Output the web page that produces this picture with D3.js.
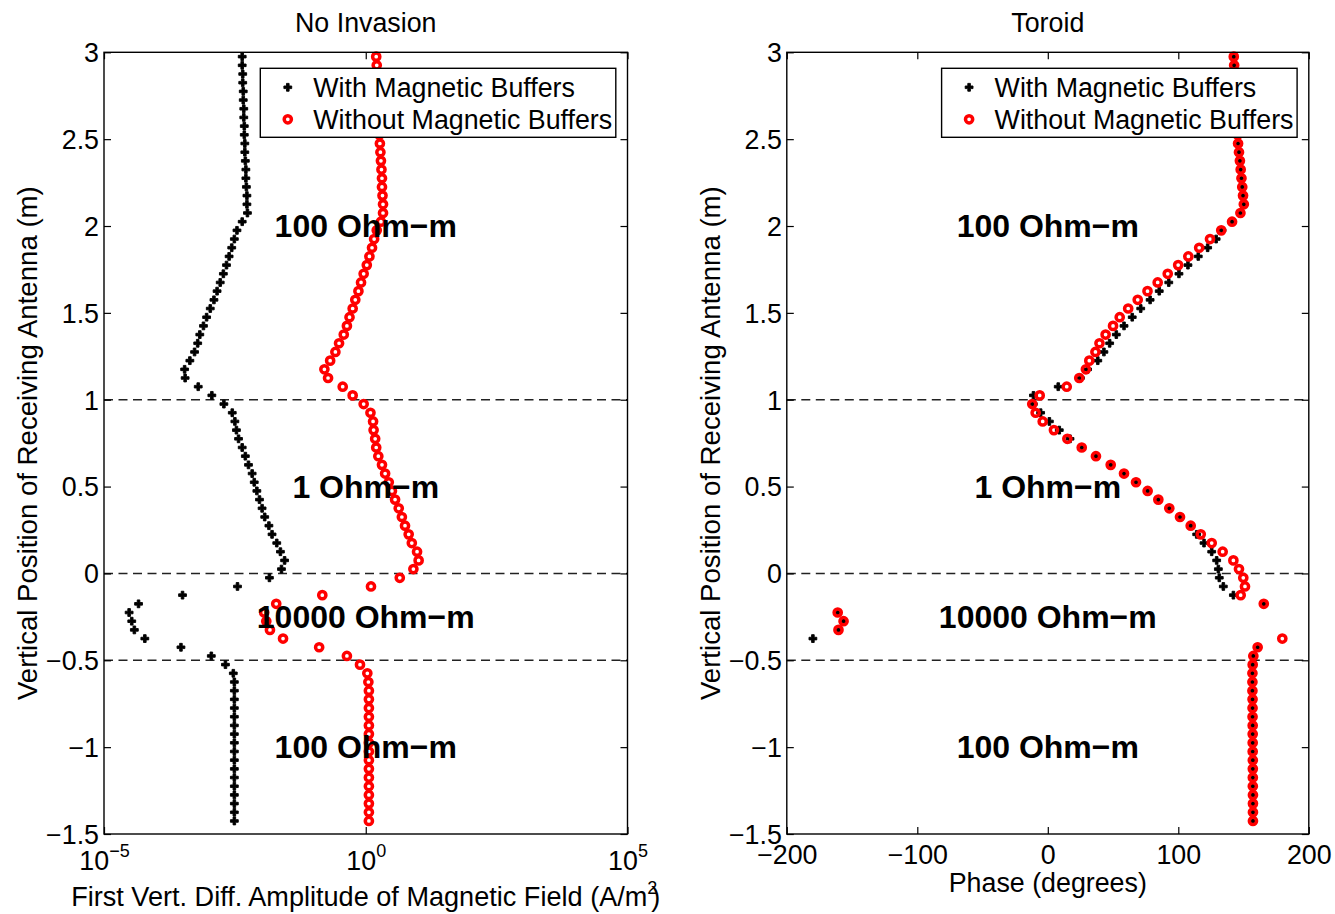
<!DOCTYPE html>
<html>
<head>
<meta charset="utf-8">
<script src="https://cdn.jsdelivr.net/npm/d3@7"></script>
<style>
  body { margin: 0; background: #fff; }
  text { font-family: 'Liberation Sans', Arial, sans-serif; fill: #000; }
</style>
</head>
<body>
<script>
// receiver depths (m), top to bottom
const depths = [
  2.975, 2.925, 2.875, 2.825, 2.775, 2.725, 2.675, 2.625, 2.575, 2.525,
  2.475, 2.425, 2.375, 2.325, 2.275, 2.225, 2.175, 2.125, 2.075, 2.025,
  1.975, 1.925, 1.875, 1.825, 1.775, 1.725, 1.675, 1.625, 1.575, 1.525,
  1.475, 1.425, 1.375, 1.325, 1.275, 1.225, 1.175, 1.125, 1.075, 1.025,
  0.975, 0.925, 0.875, 0.825, 0.775, 0.725, 0.675, 0.625, 0.575, 0.525,
  0.475, 0.425, 0.375, 0.325, 0.275, 0.225, 0.175, 0.125, 0.075, 0.025,
  -0.025, -0.075, -0.125, -0.175, -0.225, -0.275, -0.325, -0.375, -0.425, -0.475,
  -0.525, -0.575, -0.625, -0.675, -0.725, -0.775, -0.825, -0.875, -0.925, -0.975,
  -1.025, -1.075, -1.125, -1.175, -1.225, -1.275, -1.325, -1.375, -1.425
]

// log10 of amplitude, with magnetic buffers
const ampWithLog10 = [
  -2.36, -2.36, -2.35, -2.35, -2.34, -2.34, -2.33, -2.33, -2.32, -2.32,
  -2.31, -2.31, -2.30, -2.29, -2.29, -2.28, -2.27, -2.27, -2.26, -2.36,
  -2.46, -2.51, -2.56, -2.61, -2.66, -2.72, -2.78, -2.84, -2.90, -2.97,
  -3.04, -3.10, -3.17, -3.21, -3.27, -3.36, -3.46, -3.45, -3.20, -2.94,
  -2.71, -2.55, -2.50, -2.47, -2.43, -2.36, -2.30, -2.24, -2.17, -2.13,
  -2.08, -2.03, -1.98, -1.93, -1.85, -1.79, -1.70, -1.63, -1.55, -1.61,
  -1.84, -2.45, -3.50, -4.34, -4.52, -4.47, -4.42, -4.22, -3.53, -2.95,
  -2.68, -2.53, -2.51, -2.51, -2.51, -2.51, -2.51, -2.51, -2.51, -2.51,
  -2.51, -2.51, -2.51, -2.51, -2.51, -2.51, -2.51, -2.51, -2.51
]

// log10 of amplitude, without magnetic buffers
const ampWithoutLog10 = [
  0.20, 0.21, 0.22, 0.22, 0.23, 0.23, 0.24, 0.25, 0.25, 0.26,
  0.27, 0.28, 0.29, 0.30, 0.31, 0.31, 0.32, 0.33, 0.33, 0.29,
  0.21, 0.16, 0.12, 0.07, 0.02, -0.04, -0.09, -0.14, -0.20, -0.25,
  -0.31, -0.36, -0.42, -0.51, -0.58, -0.68, -0.79, -0.72, -0.44, -0.25,
  -0.04, 0.09, 0.14, 0.15, 0.18, 0.20, 0.24, 0.31, 0.37, 0.44,
  0.50, 0.56, 0.63, 0.69, 0.75, 0.82, 0.88, 0.98, 1.01, 0.91,
  0.65, 0.10, -0.83, -1.71, -1.94, -1.90, -1.83, -1.58, -0.89, -0.36,
  -0.11, 0.03, 0.05, 0.06, 0.06, 0.06, 0.06, 0.06, 0.06, 0.06,
  0.06, 0.06, 0.06, 0.06, 0.06, 0.06, 0.06, 0.06, 0.06
]

// phase (degrees), with magnetic buffers
const phaseWith = [
  142.5, 142.8, 143.2, 143.6, 144.0, 144.4, 144.7, 145.0, 145.3, 145.5,
  145.8, 146.5, 147.2, 147.8, 148.4, 149.0, 149.6, 150.2, 147.6, 141.2,
  133.5, 129.0, 122.5, 115.3, 107.4, 100.5, 92.7, 85.4, 78.4, 71.2,
  64.7, 58.4, 52.5, 47.4, 43.0, 38.3, 30.5, 25.0, 8.0, -11.0,
  -11.1, -5.5, 1.2, 8.8, 17.0, 26.0, 36.9, 48.2, 58.4, 67.6,
  76.5, 84.7, 93.1, 101.3, 109.5, 114.1, 119.7, 125.6, 129.4, 130.7,
  131.4, 134.5, 142.2, 165.5, -161.0, -156.5, -160.4, -180.0, 160.8, 157.5,
  157.0, 156.8, 156.8, 156.8, 156.9, 156.9, 156.9, 157.0, 157.0, 157.0,
  157.0, 157.1, 157.1, 157.1, 157.1, 157.2, 157.2, 157.2, 157.2
]

// phase (degrees), without magnetic buffers
const phaseWithout = [
  142.5, 142.8, 143.2, 143.6, 144.0, 144.4, 144.7, 145.0, 145.3, 145.5,
  145.8, 146.5, 147.2, 147.8, 148.4, 149.0, 149.6, 150.2, 147.6, 141.2,
  132.9, 124.3, 116.0, 107.7, 99.9, 91.9, 84.2, 76.4, 68.9, 61.6,
  55.1, 50.0, 44.3, 39.6, 36.5, 31.8, 29.2, 24.1, 14.5, -6.2,
  -11.9, -9.3, -3.9, 4.7, 15.0, 26.0, 36.9, 48.2, 58.4, 67.6,
  76.5, 84.7, 93.1, 101.3, 109.5, 117.2, 125.6, 134.0, 142.2, 146.5,
  149.8, 151.1, 147.8, 165.5, -161.0, -156.5, -160.4, 179.7, 160.8, 157.5,
  157.0, 156.8, 156.8, 156.8, 156.9, 156.9, 156.9, 157.0, 157.0, 157.0,
  157.0, 157.1, 157.1, 157.1, 157.1, 157.2, 157.2, 157.2, 157.2
]

const boundaryDepths = [1, 0, -0.5]
const regionLabels = ['100 Ohm\u2212m', '1 Ohm\u2212m', '10000 Ohm\u2212m', '100 Ohm\u2212m']
const regionDepths = [2, 0.5, -0.25, -1]
const yTicks = [-1.5, -1, -0.5, 0, 0.5, 1, 1.5, 2, 2.5, 3]
const ampTicks = [1e-5, 1, 1e5]
const phaseTicks = [-200, -100, 0, 100, 200]
const legendLabels = ['With Magnetic Buffers', 'Without Magnetic Buffers']
const yLabel = 'Vertical Position of Receiving Antenna (m)'

const W = 1335
const H = 914
const plotTop = 52.3
const plotBottom = 834
const fs = 26.8

const svg = d3.select('body').append('svg')
  .attr('width', W)
  .attr('height', H)

const yScale = d3.scaleLinear()
  .domain([-1.5, 3])
  .range([plotBottom, plotTop])

const cross = d3.symbol(d3.symbolCross, 34)

const panels = [
  {
    title: 'No Invasion',
    left: 104,
    right: 627.5,
    xScale: d3.scaleLog().domain([1e-5, 1e5]),
    withVals: ampWithLog10.map(v => Math.pow(10, v)),
    withoutVals: ampWithoutLog10.map(v => Math.pow(10, v)),
    ticks: ampTicks,
    center: 1,
    log: true
  },
  {
    title: 'Toroid',
    left: 786.8,
    right: 1308.8,
    xScale: d3.scaleLinear().domain([-200, 200]),
    withVals: phaseWith,
    withoutVals: phaseWithout,
    ticks: phaseTicks,
    center: 0,
    log: false,
    xLabel: 'Phase (degrees)'
  }
]

const styleCross = sel => sel
  .style('fill', '#000')
  .style('stroke', '#000')
  .style('stroke-width', 0.9)
  .style('stroke-linejoin', 'round')

const styleRing = sel => sel
  .attr('r', 3.6)
  .style('fill', 'none')
  .style('stroke', '#f00')
  .style('stroke-width', 3.5)

function drawPanel (p) {
  const x = p.xScale.range([p.left, p.right])
  const g = svg.append('g')
  const yFmt = d3.format('~g')

  // dashed layer boundaries
  g.selectAll('.boundary')
    .data(boundaryDepths)
    .join('line')
    .attr('x1', p.left)
    .attr('x2', p.right)
    .attr('y1', d => yScale(d))
    .attr('y2', d => yScale(d))
    .style('stroke', '#222')
    .style('stroke-width', 1.6)
    .style('stroke-dasharray', '9,5.5')

  g.selectAll('.withPt')
    .data(depths)
    .join('path')
    .attr('d', cross)
    .attr('transform', (d, i) => `translate(${x(p.withVals[i])},${yScale(d)})`)
    .call(styleCross)

  g.selectAll('.withoutPt')
    .data(depths)
    .join('circle')
    .attr('cx', (d, i) => x(p.withoutVals[i]))
    .attr('cy', d => yScale(d))
    .call(styleRing)

  g.selectAll('.region')
    .data(regionLabels)
    .join('text')
    .attr('x', x(p.center))
    .attr('y', (d, i) => yScale(regionDepths[i]))
    .attr('dy', '0.35em')
    .attr('text-anchor', 'middle')
    .style('font-size', '32px')
    .style('font-weight', 'bold')
    .text(d => d)

  // axes, ticks pointing inward on all four sides
  const yAxis = d3.axisLeft(yScale).tickValues(yTicks).tickSizeInner(-7).tickSizeOuter(0)
    .tickPadding(5).tickFormat(yFmt)
  const gy = g.append('g').attr('transform', `translate(${p.left},0)`).call(yAxis)
  gy.selectAll('.tick text').attr('dy', '0.35em').style('font-size', fs + 'px')

  g.append('g').attr('transform', `translate(${p.right},0)`)
    .call(d3.axisRight(yScale).tickValues(yTicks).tickSizeInner(-7).tickSizeOuter(0).tickFormat(''))

  const xAxis = d3.axisBottom(x).tickValues(p.ticks).tickSizeInner(-7).tickSizeOuter(0)
    .tickPadding(0).tickFormat(p.log ? () => '' : d3.format('d'))
  const gx = g.append('g').attr('transform', `translate(0,${plotBottom})`).call(xAxis)
  gx.selectAll('.tick text')
    .attr('dy', null)
    .attr('y', p.log ? 36 : 29.5)
    .style('font-size', fs + 'px')

  if (p.log) {
    gx.selectAll('.tick text').each(function (d) {
      const t = d3.select(this)
      t.append('tspan').text('10')
      t.append('tspan')
        .attr('dy', -13)
        .style('font-size', '18px')
        .text(d3.format('')(Math.round(Math.log10(d))))
    })
  }

  g.append('g').attr('transform', `translate(0,${plotTop})`)
    .call(d3.axisTop(x).tickValues(p.ticks).tickSizeInner(-7).tickSizeOuter(0).tickFormat(''))

  g.selectAll('.domain').remove()
  g.selectAll('.tick line').style('stroke', '#000').style('stroke-width', 1.2)

  g.append('rect')
    .attr('x', p.left)
    .attr('y', plotTop)
    .attr('width', p.right - p.left)
    .attr('height', plotBottom - plotTop)
    .style('fill', 'none')
    .style('stroke', '#000')
    .style('stroke-width', 1.4)

  // labels
  g.append('text')
    .attr('x', (p.left + p.right) / 2)
    .attr('y', 31.5)
    .attr('text-anchor', 'middle')
    .style('font-size', fs + 'px')
    .text(p.title)

  g.append('text')
    .attr('transform', `translate(${p.left - 67},${(plotTop + plotBottom) / 2}) rotate(-90)`)
    .attr('text-anchor', 'middle')
    .style('font-size', '27.6px')
    .text(yLabel)

  const xl = g.append('text')
    .attr('x', (p.left + p.right) / 2)
    .attr('y', p.log ? 906 : 892)
    .attr('text-anchor', 'middle')
    .style('font-size', (p.log ? 27.1 : fs) + 'px')
  if (p.log) {
    xl.append('tspan').text('First Vert. Diff. Amplitude of Magnetic Field (A/m')
    xl.append('tspan').attr('dy', -12).style('font-size', '18px').text('2')
    xl.append('tspan').attr('dy', 12).attr('dx', -6).text(')')
  } else {
    xl.text(p.xLabel)
  }

  // legend
  const lw = 355.5
  const lx = p.right - 11.7 - lw
  const ly = 68.3
  const lg = g.append('g').attr('transform', `translate(${lx},${ly})`)
  lg.append('rect')
    .attr('width', lw)
    .attr('height', 69)
    .style('fill', '#fff')
    .style('stroke', '#000')
    .style('stroke-width', 1.4)
  lg.append('path')
    .attr('d', cross)
    .attr('transform', 'translate(27.5,19)')
    .call(styleCross)
  lg.append('circle')
    .attr('cx', 27.5)
    .attr('cy', 51)
    .call(styleRing)
  lg.selectAll('.legText')
    .data(legendLabels)
    .join('text')
    .attr('x', 53)
    .attr('y', (d, i) => 19 + i * 32)
    .attr('dy', '0.35em')
    .style('font-size', fs + 'px')
    .text(d => d)
}

panels.forEach(drawPanel)
</script>
</body>
</html>
